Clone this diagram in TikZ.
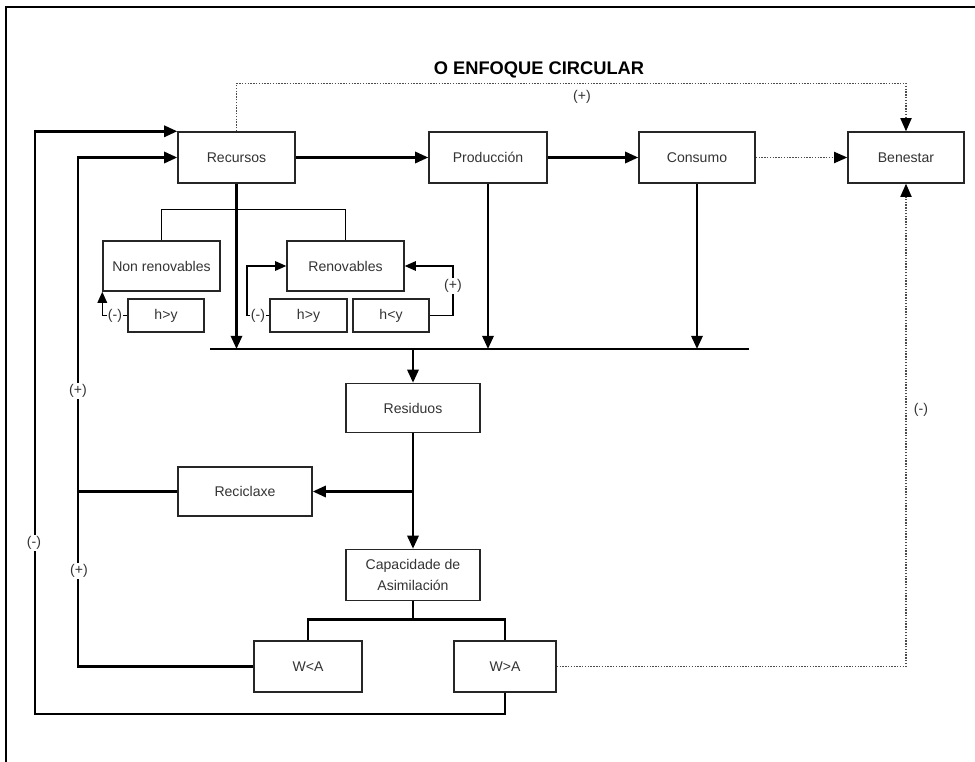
\documentclass[tikz,border=0pt]{standalone}
\usepackage{fontspec}
\setmainfont{Liberation Sans}
\usetikzlibrary{arrows.meta}

\begin{document}
\begin{tikzpicture}[x=0.025cm, y=-0.025cm,
    block/.style={rectangle, draw=black!85, line width=1pt, minimum width=#1, minimum height=1.275cm, inner sep=2pt, align=center, font=\fontsize{10}{15}\selectfont, text=black!80},
    small/.style={block=#1, minimum height=0.825cm},
    flow/.style={line width=1.9pt, -{Triangle[length=3.3mm,width=2.8mm]}},
    link/.style={line width=1.9pt},
    dotflow/.style={densely dotted, line width=1pt, draw=black!70, -{Triangle[length=3.3mm,width=2.8mm,color=black]}},
    sign/.style={fill=white, inner sep=1pt, font=\fontsize{10}{12}\selectfont, text=black!80}
]
    \useasboundingbox (0,0) rectangle (975,762);
    % Frame
    \draw[line width=1.4pt] (6,762) -- (6,7) -- (975,7);

    % Title
    \node[font=\fontsize{13}{15}\selectfont\bfseries] (title) at (539,70) {O ENFOQUE CIRCULAR};

    % Top row
    \node[block=2.925cm] (rec) at (236.5,157.5) {Recursos};
    \node[block=2.95cm] (prod) at (488,157.5) {Producción};
    \node[block=2.9cm] (cons) at (697,157.5) {Consumo};
    \node[block=2.9cm] (ben) at (906,157.5) {Benestar};

    % Resources
    \node[block=2.925cm, minimum height=1.25cm] (nonren) at (161.5,266) {Non renovables};
    \node[block=2.925cm, minimum height=1.25cm] (ren) at (345.5,266) {Renovables};
    \node[small=1.9cm] (hy1) at (166,315.5) {h>y};
    \node[small=1.925cm] (hy2) at (308.5,315.5) {h>y};
    \node[small=1.9cm] (hly) at (391,315.5) {h<y};

    % Waste
    \node[block=3.35cm, minimum height=1.225cm] (res) at (413,408) {Residuos};
    \node[block=3.35cm, minimum height=1.225cm] (recic) at (245,491.5) {Reciclaxe};
    \node[block=3.35cm] (cap) at (413,575) {Capacidade de\\Asimilación};
    \node[block=2.7cm] (wla) at (308,666.5) {W<A};
    \node[block=2.55cm] (wga) at (505,666.5) {W>A};

    % Collecting bar
    \coordinate (barl) at (210,349);
    \coordinate (barr) at (749,349);
    \draw[link] (barl) -- (barr);

    % Flows along the top
    \draw[flow] (rec) -- (prod);
    \draw[flow] (prod) -- (cons);
    \draw[dotflow] (cons) -- (ben);
    \draw[dotflow] (rec.north) -- ++(0,-48) -| (ben.north);
    \node[sign, fill=none] (s1) at (582,97) {(+)};

    % Down to the bar
    \draw[flow] (rec.south) -- (rec.south |- barl);
    \draw[flow] (prod.south) -- (prod.south |- barl);
    \draw[flow] (cons.south) -- (cons.south |- barl);
    \draw[flow] (res.north |- barl) -- (res.north);

    % Renewable / non renewable
    \draw[line width=1pt] (nonren.north) -- ++(0,-31) -| (ren.north);
    \draw[line width=1pt, -{Triangle[length=2.8mm,width=2.4mm]}] (hy1.west) -| (nonren.south west);
    \node[sign] (s2) at (115,316) {(-)};
    \draw[line width=1pt, -{Triangle[length=2.8mm,width=2.4mm]}] (hy2.west) -| (247,290) |- (ren.west);
    \node[sign] (s3) at (258,316) {(-)};
    \draw[line width=1pt, -{Triangle[length=2.8mm,width=2.4mm]}] (hly.east) -| (453,290) |- (ren.east);
    \node[sign] (s4) at (453,286) {(+)};

    % Waste flows
    \draw[flow] (res) -- (cap);
    \draw[flow] (res.south |- recic.east) -- (recic.east);
    \draw[link] (cap.south) -- ++(0,18) coordinate (fork);
    \draw[link] (wla.north) |- (fork) -| (wga.north);

    % Feedback loops
    \draw[link] (recic.west) -- (78,491.5);
    \draw[flow] (wla.west) -| (78,400) |- (rec.west);
    \node[sign] (s5) at (78,391) {(+)};
    \node[sign] (s6) at (79,571) {(+)};
    \draw[flow] (wga.south) |- (35,714) |- (rec.north west);
    \node[sign] (s7) at (34,543) {(-)};
    \draw[dotflow] (wga.east) -| (ben.south);
    \node[sign, fill=none] (s8) at (921,410) {(-)};
\end{tikzpicture}
\end{document}
